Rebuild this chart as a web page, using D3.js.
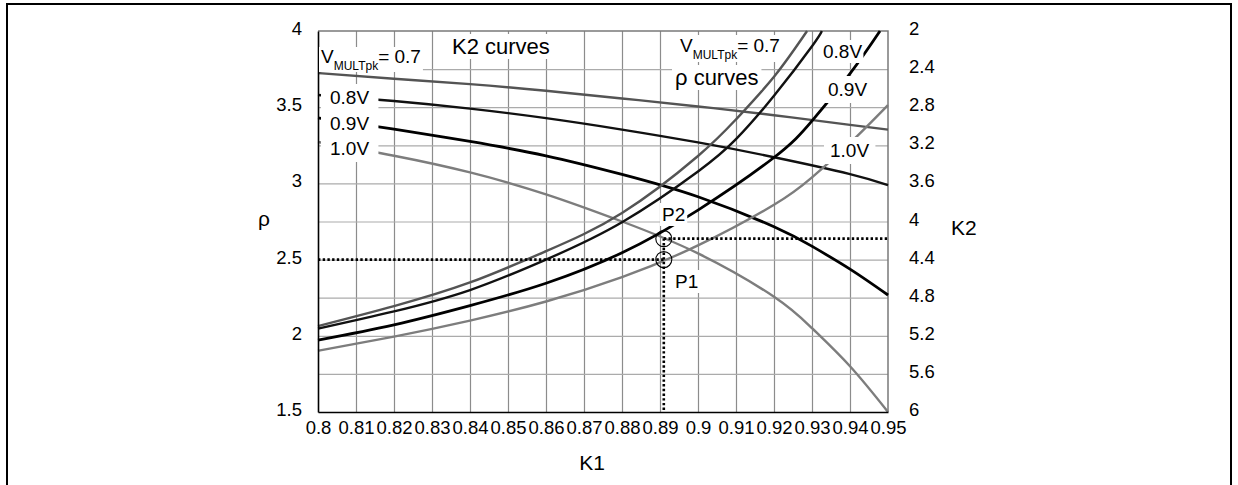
<!DOCTYPE html>
<html>
<head>
<meta charset="utf-8">
<script src="https://cdn.jsdelivr.net/npm/d3@7/dist/d3.min.js"></script>
<style>
  body { margin: 0; background: #fff; }
  svg { display: block; font-family: "Liberation Sans", Arial, sans-serif; }
</style>
</head>
<body>
<div id="chart-area"></div>
<script>
// tick values
var k1Ticks = [0.80, 0.81, 0.82, 0.83, 0.84, 0.85, 0.86, 0.87, 0.88, 0.89, 0.90, 0.91, 0.92, 0.93, 0.94, 0.95];
var rhoTicks = [1.5, 2, 2.5, 3, 3.5, 4];
var k2Ticks = [2, 2.4, 2.8, 3.2, 3.6, 4, 4.4, 4.8, 5.2, 5.6, 6];

// K2 curves (right axis), [K1, K2]
var k2V07 = [[0.80, 2.441], [0.82, 2.501], [0.84, 2.558], [0.86, 2.628], [0.88, 2.708], [0.90, 2.792], [0.92, 2.884], [0.94, 2.985], [0.95, 3.036]];
var k2V08 = [[0.80, 2.672], [0.82, 2.735], [0.84, 2.815], [0.86, 2.915], [0.88, 3.035], [0.90, 3.170], [0.92, 3.325], [0.94, 3.502], [0.95, 3.617]];
var k2V09 = [[0.80, 2.913], [0.82, 3.030], [0.84, 3.160], [0.86, 3.310], [0.88, 3.505], [0.90, 3.740], [0.92, 4.055], [0.93, 4.260], [0.94, 4.500], [0.95, 4.772]];
var k2V10 = [[0.80, 3.165], [0.82, 3.310], [0.84, 3.485], [0.86, 3.715], [0.88, 4.000], [0.90, 4.335], [0.92, 4.790], [0.93, 5.120], [0.94, 5.520], [0.95, 6.0]];

// rho curves (left axis), [K1, rho]
var rhoV07 = [[0.80, 2.064], [0.82, 2.195], [0.84, 2.350], [0.86, 2.555], [0.88, 2.806], [0.90, 3.180], [0.91, 3.420], [0.92, 3.700], [0.9287, 4.0]];
var rhoV08 = [[0.80, 2.047], [0.82, 2.160], [0.84, 2.300], [0.86, 2.500], [0.88, 2.745], [0.90, 3.078], [0.91, 3.290], [0.92, 3.575], [0.93, 3.900], [0.9326, 4.0]];
var rhoV09 = [[0.80, 1.972], [0.82, 2.072], [0.84, 2.198], [0.86, 2.345], [0.88, 2.545], [0.90, 2.825], [0.92, 3.170], [0.93, 3.410], [0.94, 3.720], [0.9479, 4.0]];
var rhoV10 = [[0.80, 1.902], [0.82, 1.995], [0.84, 2.100], [0.86, 2.225], [0.88, 2.385], [0.90, 2.593], [0.92, 2.860], [0.93, 3.040], [0.94, 3.265], [0.95, 3.514]];

// operating point P1 / P2
var pointK1 = 0.891;
var pointRho = 2.5;
var pointK2 = 4.18;

var margin = { left: 318, top: 31 };
var width = 570, height = 381;

var svg = d3.select("#chart-area")
    .append("svg")
        .attr("width", 1238)
        .attr("height", 485);

// outer frame
svg.append("rect")
    .attr("x", 7).attr("y", 4)
    .attr("width", 1224).attr("height", 492)
    .attr("fill", "none")
    .attr("stroke", "#000")
    .attr("stroke-width", 2);

var g = svg.append("g")
    .attr("transform", "translate(" + margin.left + "," + margin.top + ")");

var x = d3.scaleLinear().domain([0.8, 0.95]).range([0, width]);
var yRho = d3.scaleLinear().domain([1.5, 4]).range([height, 0]);
var yK2 = d3.scaleLinear().domain([2, 6]).range([0, height]);

// grid
var gridX = g.append("g")
    .call(d3.axisBottom(x).tickValues(k1Ticks.slice(1, -1)).tickSize(height).tickFormat(""));
gridX.select(".domain").remove();
gridX.selectAll("line").attr("stroke", "#8c8c8c").attr("stroke-width", 1.2);

var gridY = g.append("g")
    .call(d3.axisRight(yK2).tickValues(k2Ticks.slice(1, -1)).tickSize(width).tickFormat(""));
gridY.select(".domain").remove();
gridY.selectAll("line").attr("stroke", "#ababab").attr("stroke-width", 1.2);

// top and right frame (grey)
g.append("path")
    .attr("d", "M0,0H" + width + "V" + height)
    .attr("fill", "none")
    .attr("stroke", "#7a7a7a")
    .attr("stroke-width", 1.5);

// curves
var rhoLine = d3.line()
    .x(function(d) { return x(d[0]); })
    .y(function(d) { return yRho(d[1]); })
    .curve(d3.curveNatural);
var k2Line = d3.line()
    .x(function(d) { return x(d[0]); })
    .y(function(d) { return yK2(d[1]); })
    .curve(d3.curveNatural);

var styles = [
    { color: "#545454", w: 2.4 },
    { color: "#111111", w: 2.4 },
    { color: "#000000", w: 2.8 },
    { color: "#7d7d7d", w: 2.4 }
];

var curves = g.append("g").attr("fill", "none").attr("stroke-linejoin", "round");
[k2V07, k2V08, k2V09, k2V10].forEach(function(d, i) {
    curves.append("path").attr("d", k2Line(d))
        .attr("stroke", styles[i].color).attr("stroke-width", styles[i].w);
});
[rhoV07, rhoV08, rhoV09, rhoV10].forEach(function(d, i) {
    curves.append("path").attr("d", rhoLine(d))
        .attr("stroke", styles[i].color).attr("stroke-width", styles[i].w);
});

// dotted guide lines
var dots = g.append("g")
    .attr("stroke", "#000")
    .attr("stroke-width", 2.6)
    .attr("stroke-dasharray", "2.4,2.3")
    .attr("fill", "none");
dots.append("line")
    .attr("x1", x(0.8)).attr("x2", x(pointK1))
    .attr("y1", yRho(pointRho)).attr("y2", yRho(pointRho));
dots.append("line")
    .attr("x1", x(pointK1)).attr("x2", x(pointK1))
    .attr("y1", yRho(1.5) - 2).attr("y2", yK2(pointK2));
dots.append("line")
    .attr("x1", x(pointK1)).attr("x2", x(0.95))
    .attr("y1", yK2(pointK2)).attr("y2", yK2(pointK2));

g.append("circle")
    .attr("cx", x(pointK1)).attr("cy", yRho(pointRho)).attr("r", 8)
    .attr("fill", "none").attr("stroke", "#000").attr("stroke-width", 1.1);
g.append("circle")
    .attr("cx", x(pointK1)).attr("cy", yK2(pointK2)).attr("r", 8)
    .attr("fill", "none").attr("stroke", "#000").attr("stroke-width", 1.1);

// labels with white boxes
function label(px, py, size, parts, padX, padY) {
    var lg = svg.append("g");
    var box = lg.append("rect").attr("fill", "#fff");
    var t = lg.append("text").attr("x", px).attr("y", py).attr("font-size", size).attr("fill", "#000");
    parts.forEach(function(p) {
        var ts = t.append("tspan").text(p.text);
        if (p.size) ts.attr("font-size", p.size);
        if (p.dy) ts.attr("dy", p.dy);
    });
    var b = t.node().getBBox();
    box.attr("x", b.x - padX).attr("y", b.y - padY)
        .attr("width", b.width + 2 * padX).attr("height", b.height + 2 * padY);
}

var vmult = function(rest) {
    return [{ text: "V" }, { text: "MULTpk", size: 12, dy: 7 }, { text: rest, dy: -7 }];
};

label(321, 63, 19, vmult("= 0.7"), 2, -1);
label(452, 54, 22, [{ text: "K2 curves" }], 2, 0);
label(330, 104, 19, [{ text: "0.8V" }], 9, 3);
label(330, 130, 19, [{ text: "0.9V" }], 9, 3);
label(330, 155, 19, [{ text: "1.0V" }], 9, 3);

label(680, 52, 19, vmult("= 0.7"), 2, 0);
label(675, 85, 22, [{ text: "ρ curves" }], 3, 0);
label(823, 58, 19, [{ text: "0.8V" }], 1, 1);
label(828, 96, 19, [{ text: "0.9V" }], 6, 3);
label(830, 157, 19, [{ text: "1.0V" }], 6, 3);

label(662, 221, 19, [{ text: "P2" }], 2, 1);
label(675, 288, 19, [{ text: "P1" }], 2, 1);

// axes
var leftAxis = g.append("g")
    .call(d3.axisLeft(yRho).tickValues(rhoTicks).tickSize(0).tickPadding(16)
        .tickFormat(function(d) { return String(d); }));
var bottomAxis = g.append("g")
    .attr("transform", "translate(0," + height + ")")
    .call(d3.axisBottom(x).tickValues(k1Ticks).tickSize(0).tickPadding(9)
        .tickFormat(function(d) { return String(+d.toFixed(2)); }));
var rightAxis = g.append("g")
    .attr("transform", "translate(" + width + ",0)")
    .call(d3.axisRight(yK2).tickValues(k2Ticks).tickSize(0).tickPadding(21)
        .tickFormat(function(d) { return String(+d.toFixed(1)); }));

[leftAxis, bottomAxis, rightAxis].forEach(function(a) {
    a.attr("font-family", null).attr("font-size", null);
    a.selectAll("text").attr("font-size", "18.5px").attr("fill", "#000");
});
leftAxis.selectAll("text").attr("dy", 3.5);
rightAxis.selectAll("text").attr("dy", 3.5);
rightAxis.select(".domain").remove();
leftAxis.select(".domain").attr("stroke", "#000").attr("stroke-width", 1.6);
bottomAxis.select(".domain").attr("stroke", "#000").attr("stroke-width", 1.6);

// axis titles
svg.append("text").attr("x", 264).attr("y", 226).attr("text-anchor", "middle")
    .attr("font-size", 21).text("ρ");
svg.append("text").attr("x", 951).attr("y", 235)
    .attr("font-size", 21).text("K2");
svg.append("text").attr("x", 592).attr("y", 470).attr("text-anchor", "middle")
    .attr("font-size", 21).text("K1");
</script>
</body>
</html>
